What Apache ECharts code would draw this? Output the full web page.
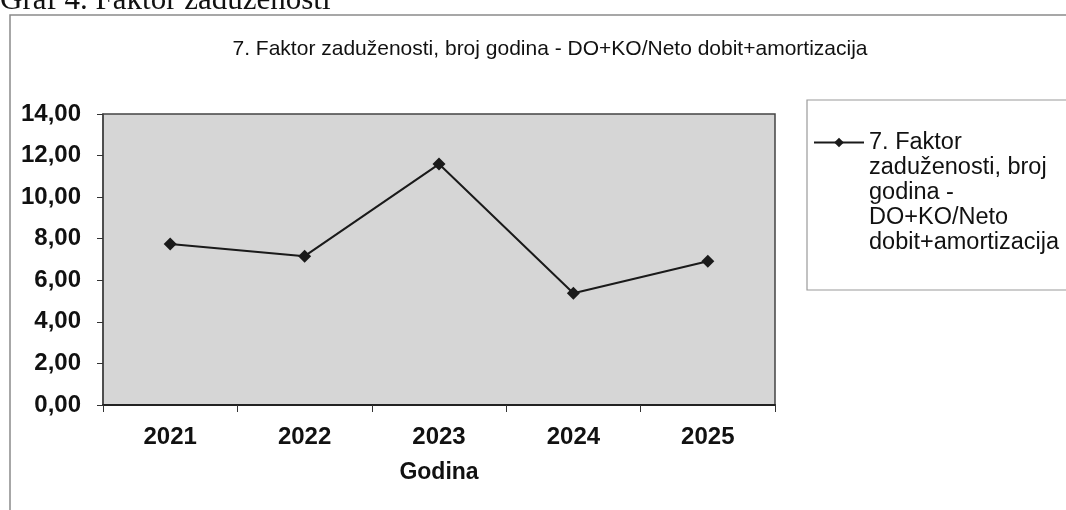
<!DOCTYPE html>
<html>
<head>
<meta charset="utf-8">
<script src="https://cdn.jsdelivr.net/npm/echarts@6/dist/echarts.min.js"></script>
<style>
  html, body { margin: 0; padding: 0; background: #fff; }
  #chart { width: 1066px; height: 510px; }
</style>
</head>
<body>
<div id="chart"></div>
<script>
var years = ['2021', '2022', '2023', '2024', '2025']
var faktor = [7.74, 7.16, 11.59, 5.38, 6.92]
var seriesName = '7. Faktor zaduženosti, broj godina - DO+KO/Neto dobit+amortizacija'
var legendLines = ['7. Faktor', 'zaduženosti, broj', 'godina -', 'DO+KO/Neto', 'dobit+amortizacija']

var chart = echarts.init(document.getElementById('chart'))

chart.setOption({
  animation: false,
  backgroundColor: '#fff',
  title: {
    text: seriesName,
    left: 545,
    top: 34,
    textAlign: 'center',
    textStyle: {
      fontFamily: 'Liberation Sans',
      fontSize: 21,
      fontWeight: 'normal',
      color: '#111'
    }
  },
  graphic: [
    {
      type: 'text',
      left: 0,
      top: -15,
      style: {
        text: 'Graf 4. Faktor zaduženosti',
        font: '31px "Liberation Serif"',
        fill: '#111'
      }
    },
    {
      type: 'rect',
      shape: { x: 10, y: 15, width: 1070, height: 510 },
      style: { fill: 'none', stroke: '#8a8a8a', lineWidth: 1.5 },
      z: -1
    },
    {
      type: 'rect',
      shape: { x: 807, y: 100, width: 270, height: 190 },
      style: { fill: 'none', stroke: '#9a9a9a', lineWidth: 1.2 },
      z: -1
    }
  ],
  legend: {
    orient: 'vertical',
    left: 808,
    top: 25,
    itemWidth: 50,
    itemHeight: 12,
    itemGap: 0,
    // leading blank lines keep the icon level with the first text line
    formatter: function () { return '\n\n\n\n' + legendLines.join('\n') },
    textStyle: {
      fontFamily: 'Liberation Sans',
      fontSize: 23.5,
      color: '#111',
      lineHeight: 25
    }
  },
  grid: {
    left: 103,
    right: 291,
    top: 114,
    bottom: 105,
    show: true,
    backgroundColor: '#d6d6d6',
    borderColor: '#444',
    borderWidth: 1.5
  },
  xAxis: {
    type: 'category',
    data: years,
    boundaryGap: true,
    name: 'Godina',
    nameLocation: 'middle',
    nameGap: 56,
    nameTextStyle: {
      fontFamily: 'Liberation Sans',
      fontSize: 23,
      fontWeight: 'bold',
      color: '#111'
    },
    axisLine: { lineStyle: { color: '#222', width: 2 } },
    axisTick: { show: true, length: 7, lineStyle: { color: '#333' } },
    axisLabel: {
      margin: 20,
      fontFamily: 'Liberation Sans',
      fontSize: 24,
      fontWeight: 'bold',
      color: '#111'
    }
  },
  yAxis: {
    type: 'value',
    min: 0,
    max: 14,
    interval: 2,
    axisLine: { show: true, lineStyle: { color: '#444', width: 1.5 } },
    axisTick: { show: true, length: 6, lineStyle: { color: '#333' } },
    splitLine: { show: false },
    axisLabel: {
      margin: 22,
      fontFamily: 'Liberation Sans',
      fontSize: 24,
      fontWeight: 'bold',
      color: '#111',
      formatter: function (v) { return v.toFixed(2).replace('.', ',') }
    }
  },
  series: [
    {
      name: seriesName,
      type: 'line',
      data: faktor,
      symbol: 'diamond',
      symbolSize: 13,
      itemStyle: { color: '#1a1a1a' },
      lineStyle: { color: '#1a1a1a', width: 2 }
    }
  ]
})
</script>
</body>
</html>
